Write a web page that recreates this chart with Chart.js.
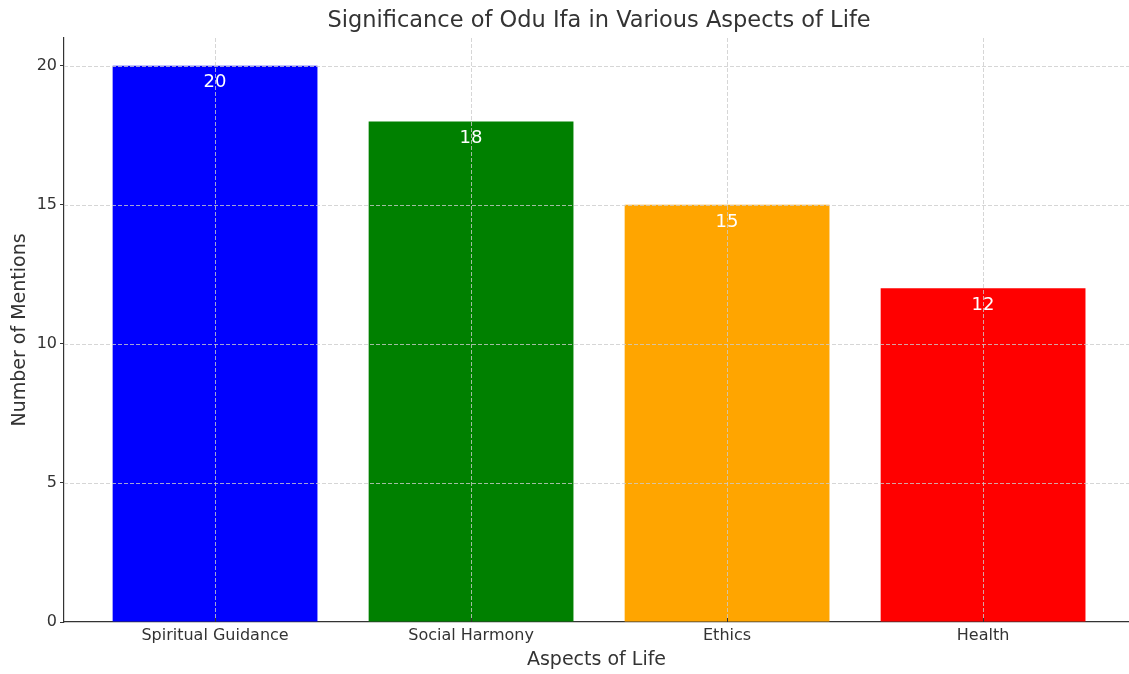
<!DOCTYPE html>
<html lang="en">
<head>
  <meta charset="UTF-8">
  <title>Significance of Odu Ifa</title>
  <script src="https://cdn.jsdelivr.net/npm/chart.js@4.4.1/dist/chart.umd.min.js"></script>
  <style>
    html, body { margin: 0; padding: 0; background: #fff; }
    #wrap { width: 1129px; height: 674px; }
  </style>
</head>
<body>
  <div id="wrap"><canvas id="chart" width="1129" height="674"></canvas></div>

  <script>
  const aspects = ['Spiritual Guidance', 'Social Harmony', 'Ethics', 'Health'];
  const mentions = [20, 18, 15, 12];
  const barColors = ['#0000ff', '#008000', '#ffa500', '#ff0000'];
  const yTicks = [0, 5, 10, 15, 20];

  const FONT = "'DejaVu Sans', sans-serif";
  const TEXT = '#333333';

  // matplotlib-like: dashed grid over the bars, title over the plot, labels inside bars
  const overlay = {
    id: 'overlay',
    afterDatasetsDraw(chart) {
      const { ctx, chartArea, scales: { x, y } } = chart;
      ctx.save();
      ctx.strokeStyle = '#cccccc';
      ctx.lineWidth = 0.8;
      ctx.setLineDash([4, 2]);
      yTicks.forEach(v => {
        if (v === 0) return;
        const py = Math.round(y.getPixelForValue(v)) + 0.5;
        ctx.beginPath();
        ctx.moveTo(chartArea.left, py);
        ctx.lineTo(chartArea.right, py);
        ctx.stroke();
      });
      aspects.forEach((a, i) => {
        const px = Math.round(x.getPixelForValue(i)) + 0.5;
        ctx.beginPath();
        ctx.moveTo(px, chartArea.top);
        ctx.lineTo(px, chartArea.bottom);
        ctx.stroke();
      });
      ctx.setLineDash([]);

      // small inward ticks on x axis
      ctx.strokeStyle = TEXT;
      ctx.lineWidth = 1;
      aspects.forEach((a, i) => {
        const px = Math.round(x.getPixelForValue(i)) + 0.5;
        ctx.beginPath();
        ctx.moveTo(px, chartArea.bottom);
        ctx.lineTo(px, chartArea.bottom - 4);
        ctx.stroke();
      });

      // value labels
      const meta = chart.getDatasetMeta(0);
      ctx.fillStyle = '#ffffff';
      ctx.font = '18px ' + FONT;
      ctx.textAlign = 'center';
      ctx.textBaseline = 'middle';
      meta.data.forEach((bar, i) => {
        ctx.fillText(String(mentions[i]), bar.x, bar.y + 17);
      });

      // title centred over the full plot width
      ctx.fillStyle = TEXT;
      ctx.font = '22.5px ' + FONT;
      ctx.fillText('Significance of Odu Ifa in Various Aspects of Life', x.getPixelForValue(1.5), 21);
      ctx.restore();
    }
  };

  new Chart(document.getElementById('chart'), {
    type: 'bar',
    data: {
      labels: aspects,
      datasets: [{
        data: mentions,
        backgroundColor: barColors,
        borderWidth: 0,
        categoryPercentage: 1.0,
        barPercentage: 0.8
      }]
    },
    options: {
      responsive: false,
      animation: false,
      layout: { padding: { top: 38, left: 0, right: 0, bottom: 0 } },
      plugins: {
        legend: { display: false },
        tooltip: { enabled: false },
        title: { display: false }
      },
      scales: {
        x: {
          z: 1,
          offset: false,
          afterBuildTicks: s => {
            // matplotlib default 5% margins around bars (-0.59 .. 3.59)
            s._startValue = -0.59;
            s._valueRange = 4.16;
          },
          afterFit: s => { s.height = 52; },
          grid: { display: true, drawOnChartArea: false, drawTicks: false },
          border: { display: true, color: TEXT, width: 1.2 },
          ticks: { color: TEXT, font: { family: FONT, size: 16 }, padding: 4, maxRotation: 0, autoSkip: false },
          title: { display: true, text: 'Aspects of Life', color: TEXT, font: { family: FONT, size: 19 }, padding: { top: 0, bottom: 3 } }
        },
        y: {
          z: 1,
          min: 0,
          max: 21,
          afterFit: s => { s.width = 64; },
          afterBuildTicks: s => { s.ticks = yTicks.map(v => ({ value: v })); },
          grid: { display: true, drawOnChartArea: false, drawTicks: true, tickLength: 4, tickColor: TEXT },
          border: { display: true, color: TEXT, width: 1.2 },
          ticks: { color: TEXT, font: { family: FONT, size: 16 }, padding: 3 },
          title: { display: true, text: 'Number of Mentions', color: TEXT, font: { family: FONT, size: 19 }, padding: { top: 9, bottom: 0 } }
        }
      }
    },
    plugins: [overlay]
  });
  </script>
</body>
</html>
